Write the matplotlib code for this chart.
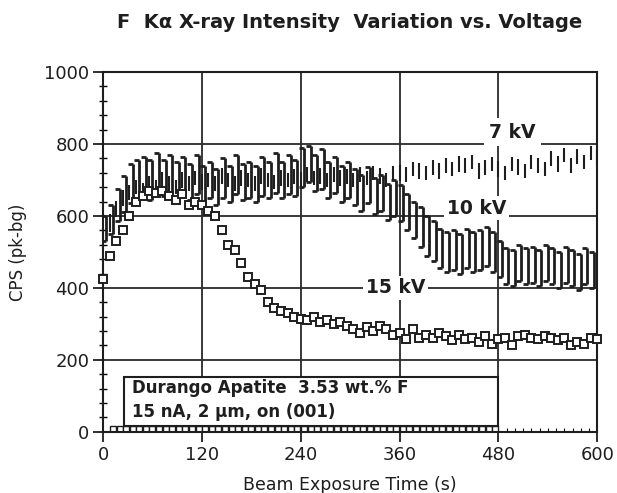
import numpy as np
import matplotlib
matplotlib.use("Agg")
import matplotlib.pyplot as plt
from matplotlib.patches import Rectangle
from matplotlib.path import Path
from matplotlib.ticker import MultipleLocator

plt.rcParams['font.family'] = ['DejaVu Sans']

# scan times (s) shared by the 7 kV and 15 kV runs
t_scan = [0, 8, 16, 24, 32, 40, 48, 56, 64, 72, 80, 88, 96, 104, 112, 120, 128, 136,
          144, 152, 160, 168, 176, 184, 192, 200, 208, 216, 224, 232, 240, 248, 256,
          264, 272, 280, 288, 296, 304, 312, 320, 328, 336, 344, 352, 360, 368, 376,
          384, 392, 400, 408, 416, 424, 432, 440, 448, 456, 464, 472, 480, 488, 496,
          504, 512, 520, 528, 536, 544, 552, 560, 568, 576, 584, 592, 600]

cps_7kv = [540, 580, 620, 650, 665, 680, 670, 690, 680, 700, 690, 680, 700, 690, 705,
           695, 700, 690, 710, 700, 690, 705, 700, 690, 710, 700, 695, 705, 700, 710,
           700, 715, 705, 710, 700, 715, 705, 710, 700, 715, 705, 720, 710, 700, 720,
           720, 715, 730, 725, 720, 735, 725, 740, 730, 745, 740, 750, 725, 735, 745,
           730, 720, 745, 735, 725, 750, 740, 730, 760, 745, 770, 740, 765, 750, 775, 760]
err_7kv = [25, 25, 22, 22, 20, 20, 22, 20, 20, 22, 20, 20, 22, 20, 20, 22, 20, 20, 22,
           20, 20, 22, 20, 20, 22, 20, 20, 22, 20, 20, 22, 20, 20, 22, 20, 20, 22, 20,
           20, 22, 20, 20, 22, 20, 20, 22, 20, 20, 22, 20, 20, 22, 20, 20, 22, 20, 20,
           22, 20, 20, 22, 20, 20, 22, 20, 20, 22, 20, 20, 22, 20, 20, 22, 20, 20, 22]

t_10kv = [4, 12, 20, 28, 36, 44, 52, 60, 68, 76, 84, 92, 100, 108, 116, 124, 132, 140,
          148, 156, 164, 172, 180, 188, 196, 204, 212, 220, 228, 236, 244, 252, 260,
          268, 276, 284, 292, 300, 308, 316, 324, 332, 340, 348, 356, 364, 372, 380,
          388, 396, 404, 412, 420, 428, 436, 444, 452, 460, 468, 476, 484, 492, 500,
          508, 516, 524, 532, 540, 548, 556, 564, 572, 580, 588, 596]
cps_10kv = [565, 590, 630, 660, 690, 700, 710, 700, 720, 705, 715, 700, 710, 695, 715,
            690, 700, 680, 705, 690, 715, 695, 700, 690, 710, 700, 720, 700, 715, 705,
            735, 745, 720, 730, 700, 715, 690, 700, 680, 665, 685, 655, 665, 640, 650,
            635, 610, 590, 570, 545, 530, 510, 500, 505, 495, 510, 500, 505, 515, 500,
            480, 460, 455, 470, 460, 465, 455, 470, 460, 450, 465, 455, 445, 460, 450]
err_10kv = [35, 40, 45, 50, 55, 55, 55, 55, 55, 50, 55, 50, 55, 50, 55, 50, 50, 50, 55,
            50, 55, 50, 50, 50, 55, 50, 55, 50, 55, 50, 55, 50, 50, 55, 50, 50, 50, 50,
            50, 50, 50, 50, 50, 50, 50, 50, 50, 50, 55, 55, 55, 55, 55, 55, 55, 55, 55,
            55, 55, 55, 50, 50, 50, 50, 50, 50, 50, 50, 50, 50, 50, 50, 50, 50, 50]

cps_15kv = [425, 490, 530, 560, 600, 640, 655, 670, 665, 670, 655, 645, 660, 630, 640,
            630, 615, 600, 560, 520, 505, 470, 430, 410, 395, 360, 345, 335, 330, 320,
            315, 312, 320, 305, 310, 300, 305, 295, 285, 275, 290, 280, 295, 285, 270,
            275, 258, 285, 260, 270, 262, 275, 265, 255, 270, 258, 262, 250, 265, 245,
            258, 262, 240, 265, 270, 262, 258, 265, 260, 255, 262, 240, 250, 245, 262, 258]

# near-zero baseline counts
t_base = [12, 20, 28, 36, 44, 52, 60, 68, 76, 84, 92, 100, 108, 116, 124, 132, 140, 148,
          156, 164, 172, 180, 188, 196, 204, 212, 220, 228, 236, 244, 252, 260, 268,
          276, 284, 292, 300, 308, 316, 324, 332, 340, 348, 356, 364, 372, 380, 388,
          396, 404, 412, 420, 428, 436, 444, 452, 460, 468, 476]
cps_base = [8] * len(t_base)

fig = plt.figure(figsize=(6.17, 4.93), dpi=100)
ax = fig.add_axes([0.167, 0.124, 0.801, 0.730])

ink = '#1e1e1e'

# 7 kV: thin bars, no caps
ax.errorbar(t_scan, cps_7kv, yerr=err_7kv, fmt='none', ecolor=ink, elinewidth=1.5,
            capsize=0, zorder=3)

# 10 kV: bars with left-pointing "[" caps
ax.errorbar(t_10kv, cps_10kv, yerr=err_10kv, fmt='none', ecolor=ink, elinewidth=2.0,
            capsize=0, zorder=4)
lcap = Path([(-1, 0), (0, 0)], [Path.MOVETO, Path.LINETO])
c10 = np.array(cps_10kv)
e10 = np.array(err_10kv)
for ends in (c10 + e10, c10 - e10):
    ax.plot(t_10kv, ends, ls='none', marker=lcap, ms=6.5, mew=2.0, mec=ink, zorder=4)

ax.plot(t_scan, cps_15kv, ls='none', marker='s', ms=6.2, mfc='white', mec=ink, mew=1.4,
        zorder=5, clip_on=False)
ax.plot(t_base, cps_base, ls='none', marker='s', ms=4.2, mfc='white', mec=ink, mew=1.0,
        zorder=2)

ax.set_xlim(0, 600)
ax.set_ylim(0, 1000)
ax.xaxis.set_major_locator(MultipleLocator(120))
ax.xaxis.set_minor_locator(MultipleLocator(10))
ax.yaxis.set_major_locator(MultipleLocator(200))
ax.yaxis.set_minor_locator(MultipleLocator(40))
ax.grid(True, which='major', color='#2a2a2a', lw=1.3, zorder=1)
ax.set_axisbelow(True)

ax.tick_params(which='major', direction='out', length=7, width=1.3, labelsize=13,
               colors=ink, pad=3)
ax.tick_params(axis='y', which='minor', direction='inout', length=6, width=1)
ax.tick_params(axis='x', which='minor', direction='in', length=3, width=0.8)
for s in ax.spines.values():
    s.set_linewidth(1.5)
    s.set_color(ink)

# series labels sitting on the grid lines
lab = dict(fontsize=13.5, fontweight='bold', ha='center', va='center', color=ink,
           zorder=6)
ax.text(497, 833, '7 kV', bbox=dict(fc='white', ec='none', pad=3.5), **lab)
ax.text(454, 622, '10 kV', bbox=dict(fc='white', ec='none', pad=2), **lab)
ax.text(355, 400, '15 kV', bbox=dict(fc='white', ec='none', pad=2), **lab)

# sample note box
ax.add_patch(Rectangle((25, 16), 454, 137, fc='white', ec=ink, lw=1.5, zorder=6))
ax.text(35, 122, 'Durango Apatite  3.53 wt.% F', fontsize=12, fontweight='bold',
        va='center', color=ink, zorder=7)
ax.text(35, 55, '15 nA, 2 \u00b5m, on (001)', fontsize=12, fontweight='bold',
        va='center', color=ink, zorder=7)

ax.set_xlabel('Beam Exposure Time (s)', fontsize=12.5, color=ink)
ax.xaxis.set_label_coords(0.5, -0.122)
ax.set_ylabel('CPS (pk-bg)', fontsize=12, color=ink)
ax.yaxis.set_label_coords(-0.153, 0.5)
fig.text(0.566, 0.955, 'F  K\u03b1 X-ray Intensity  Variation vs. Voltage', ha='center',
         va='center', fontsize=14, fontweight='bold', color=ink)

fig.savefig('out.png', dpi=100)
